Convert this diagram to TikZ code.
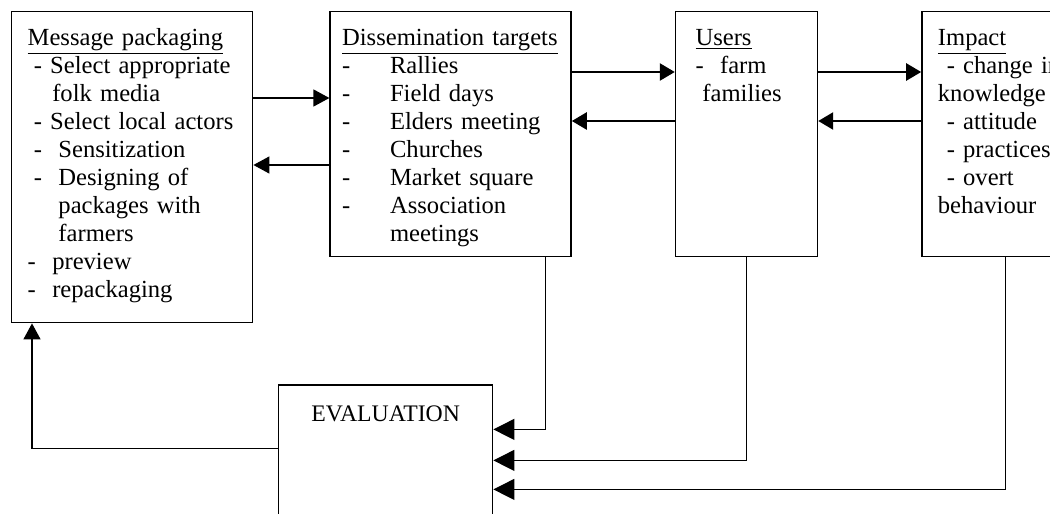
\documentclass[tikz,border=0pt]{standalone}
\usepackage{fontspec}
\setmainfont{Liberation Serif}
\usetikzlibrary{positioning,arrows.meta}

\newcommand{\dashitem}{\makebox[1.95em][l]{-}}

\tikzset{
  box/.style={draw, line width=0.8pt, align=left, inner ysep=0pt, text height=0.68cm, font=\fontsize{14}{15.9}\selectfont},
  arr/.style={line width=0.8pt, -{Triangle[length=0.32cm, width=0.34cm]}},
  bigarr/.style={line width=1.4pt, -{Triangle[length=0.3cm, width=0.34cm]}},
  evalarr/.style={line width=0.7pt, -{Triangle[length=0.42cm, width=0.42cm]}}
}

\begin{document}
\begin{tikzpicture}

\useasboundingbox (0,0) rectangle (21,-10.28);

%Declare nodes.
\node[box, anchor=north west, text width=4.18cm, inner xsep=0.32cm, text depth=5.54cm] (msg) at (0.22,-0.22) {\underline{Message packaging}\\
\hspace*{0.25em}- Select appropriate\\
\hspace*{1em}folk media\\
\hspace*{0.25em}- Select local actors\\
\hspace*{0.25em}-\ \ Sensitization\\
\hspace*{0.25em}-\ \ Designing of\\
\hspace*{1.25em}packages with\\
\hspace*{1.25em}farmers\\
-\ \ preview\\
-\ \ repackaging};
\node[box, right=1.52cm of msg.north east, anchor=north west, text width=4.34cm, inner xsep=0.24cm, text depth=4.22cm] (dis) {\underline{Dissemination targets}\\
\dashitem Rallies\\
\dashitem Field days\\
\dashitem Elders meeting\\
\dashitem Churches\\
\dashitem Market square\\
\dashitem Association\\
\hspace*{1.95em}meetings};
\node[box, right=2.06cm of dis.north east, anchor=north west, text width=2.04cm, inner xsep=0.4cm, text depth=4.22cm] (usr) {\underline{Users}\\
-\ \ farm\\
\hspace*{0.28em}families};
\node[box, right=2.06cm of usr.north east, anchor=north west, text width=2.56cm, inner xsep=0.32cm, text depth=4.22cm] (imp) {\underline{Impact}\\
\hspace*{0.36em}- change in\\
knowledge\\
\hspace*{0.36em}- attitude\\
\hspace*{0.36em}- practices\\
\hspace*{0.36em}- overt\\
behaviour};
\node[box, below right=1.22cm and 5.34cm of msg.south west, text width=4.28cm, inner xsep=0pt, align=center, text height=0.72cm, text depth=2.28cm, font=\fontsize{13.5}{15}\selectfont] (eval) {EVALUATION};

%Setup edges.
\draw[arr] ([yshift=-1.74cm]msg.north east) -- ([yshift=-1.74cm]dis.north west);
\draw[arr] ([yshift=-3.08cm]dis.north west) -- ([yshift=-3.08cm]msg.north east);
\draw[bigarr] ([yshift=-1.22cm]dis.north east) -- ([yshift=-1.22cm]usr.north west);
\draw[bigarr] ([yshift=-2.2cm]usr.north west) -- ([yshift=-2.2cm]dis.north east);
\draw[bigarr] ([yshift=-1.22cm]usr.north east) -- ([yshift=-1.22cm]imp.north west);
\draw[bigarr] ([yshift=-2.2cm]imp.north west) -- ([yshift=-2.2cm]usr.north east);

%Feedback to evaluation.
\draw[evalarr] ([xshift=-0.52cm]dis.south east) |- ([yshift=-0.9cm]eval.north east);
\draw[evalarr] (usr.south) |- ([yshift=-1.52cm]eval.north east);
\draw[evalarr] ([xshift=1.68cm]imp.south west) |- ([yshift=-2.1cm]eval.north east);
\draw[arr] ([yshift=-1.28cm]eval.north west) -| ([xshift=0.42cm]msg.south west);

\end{tikzpicture}
\end{document}
